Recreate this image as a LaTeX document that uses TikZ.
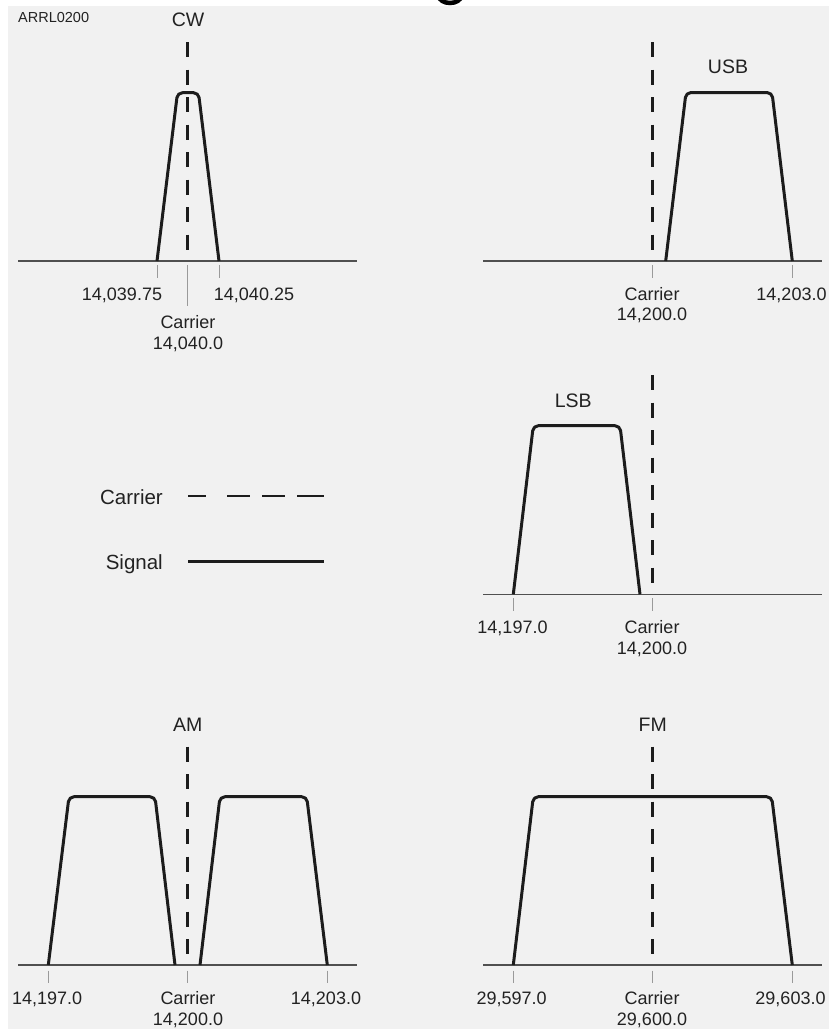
\documentclass[tikz,border=0pt]{standalone}
\usepackage{fontspec}
\setmainfont{Liberation Sans}
\definecolor{bgc}{HTML}{F1F1F1}
\definecolor{sigc}{HTML}{1C1C1C}
\definecolor{axc}{HTML}{505050}
\definecolor{tkc}{HTML}{9A9A9A}
\definecolor{txc}{HTML}{222222}
\tikzset{
  sigline/.style={line width=3pt, draw=sigc, rounded corners=5pt, line join=round},
  carrline/.style={line width=3pt, draw=sigc, dash pattern=on 15pt off 12.5pt},
  axisline/.style={line width=1.6pt, draw=axc},
  tickline/.style={line width=1pt, draw=tkc},
  lab/.style={inner sep=0pt, anchor=base, text=txc, font=\fontsize{18}{20}\selectfont},
  ttl/.style={inner sep=0pt, anchor=base, text=txc, font=\fontsize{19.5}{22}\selectfont},
  leg/.style={inner sep=0pt, anchor=base east, text=txc, font=\fontsize{20.5}{23}\selectfont},
  code/.style={inner sep=0pt, anchor=base west, text=txc, font=\fontsize{14.5}{16}\selectfont}
}
\begin{document}
\begin{tikzpicture}[x=1pt,y=-1pt]
\useasboundingbox (0,0) rectangle (829,1031);
\fill[white] (0,0) rectangle (829,1031);
\fill[bgc] (8,6) rectangle (829,1029);
% cut-off glyph at the top edge
\begin{scope}
  \clip (425,0) rectangle (475,6);
  \draw[line width=4.5pt, black] (450,-4) ellipse [x radius=11pt, y radius=7pt];
\end{scope}

\node[code] (code) at (18,22) {ARRL0200};

% ---------- CW ----------
\draw[axisline] (18,261) -- (357,261);
\draw[carrline] (187.7,42) -- (187.7,261);
\draw[sigline] (157,261) -- (177.5,92.7) -- (198.5,92.7) -- (219,261);
\draw[tickline] (157,265) -- (157,278);
\draw[tickline] (219,265) -- (219,278);
\draw[tickline] (187.7,265) -- (187.7,306);
\node[ttl] (cwt) at (188,26) {CW};
\node[lab] (cwl) at (122,300) {14,039.75};
\node[lab] (cwr) at (254,300) {14,040.25};
\node[lab] (cwc) at (188,328) {Carrier};
\node[lab] (cwf) at (188,349) {14,040.0};

% ---------- USB ----------
\draw[axisline] (483,261) -- (822,261);
\draw[carrline] (652,42) -- (652,261);
\draw[sigline] (665.7,261) -- (686,92.5) -- (772,92.5) -- (792.3,261);
\draw[tickline] (652,265) -- (652,278);
\draw[tickline] (792.3,265) -- (792.3,278);
\node[ttl] (usbt) at (728,73.3) {USB};
\node[lab] (usbc) at (652,300) {Carrier};
\node[lab] (usbf) at (652,320.7) {14,200.0};
\node[lab] (usbr) at (791.5,300) {14,203.0};

% ---------- LSB ----------
\draw[axisline] (483,594.3) -- (822,594.3);
\draw[carrline] (652,375) -- (652,594.3);
\draw[sigline] (513.3,594.3) -- (533.3,425.7) -- (620,425.7) -- (640,594.3);
\draw[tickline] (513.3,598) -- (513.3,611);
\draw[tickline] (652,598) -- (652,611);
\node[ttl] (lsbt) at (573.3,407.7) {LSB};
\node[lab] (lsbl) at (512.5,633.3) {14,197.0};
\node[lab] (lsbc) at (652,633.3) {Carrier};
\node[lab] (lsbf) at (652,654.3) {14,200.0};

% ---------- Legend ----------
\node[leg] (legc) at (163,504) {Carrier};
\node[leg] (legs) at (163,569.3) {Signal};
\draw[line width=2.6pt, draw=sigc] (188,496) -- (206,496);
\draw[line width=2.6pt, draw=sigc] (227,496) -- (250,496);
\draw[line width=2.6pt, draw=sigc] (262,496) -- (285,496);
\draw[line width=2.6pt, draw=sigc] (297,496) -- (324,496);
\draw[line width=2.8pt, draw=sigc] (188,561.7) -- (324,561.7);

% ---------- AM ----------
\draw[axisline] (18,965) -- (357,965);
\draw[carrline] (187.7,746.7) -- (187.7,965);
\draw[sigline] (48.3,965) -- (69,796.7) -- (155,796.7) -- (175,965);
\draw[sigline] (200,965) -- (220,796.7) -- (306.7,796.7) -- (327.3,965);
\draw[tickline] (48.3,970.7) -- (48.3,982.7);
\draw[tickline] (187.7,970.7) -- (187.7,982.7);
\draw[tickline] (327.3,970.7) -- (327.3,982.7);
\node[ttl] (amt) at (187.7,731.7) {AM};
\node[lab] (aml) at (47.2,1004.3) {14,197.0};
\node[lab] (amc) at (188,1004.3) {Carrier};
\node[lab] (amf) at (188,1025) {14,200.0};
\node[lab] (amr) at (326,1004.3) {14,203.0};

% ---------- FM ----------
\draw[axisline] (483,965) -- (822,965);
\draw[carrline] (652,746.7) -- (652,965);
\draw[sigline] (513.3,965) -- (533.3,796.7) -- (771.7,796.7) -- (792.3,965);
\draw[tickline] (513.3,970.7) -- (513.3,982.7);
\draw[tickline] (652,970.7) -- (652,982.7);
\draw[tickline] (792.3,970.7) -- (792.3,982.7);
\node[ttl] (fmt) at (652.7,731.7) {FM};
\node[lab] (fml) at (511.7,1004.3) {29,597.0};
\node[lab] (fmc) at (652,1004.3) {Carrier};
\node[lab] (fmf) at (652,1025) {29,600.0};
\node[lab] (fmr) at (790.5,1004.3) {29,603.0};
\end{tikzpicture}
\end{document}
